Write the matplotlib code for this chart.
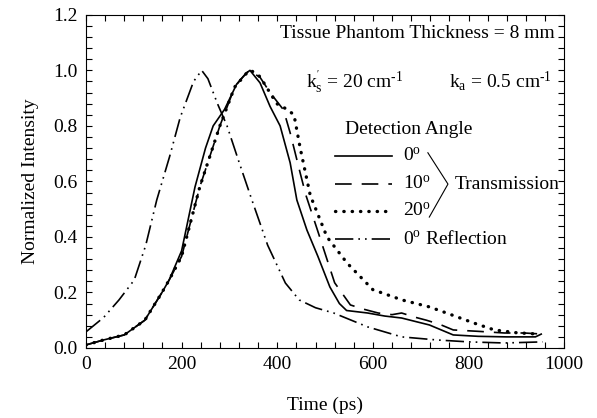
import numpy as np
import matplotlib
matplotlib.use("Agg")
import matplotlib.pyplot as plt
from matplotlib.ticker import MultipleLocator

plt.rcParams['font.family'] = ['Liberation Serif', 'DejaVu Serif']
plt.rcParams['mathtext.fontset'] = 'custom'
plt.rcParams['mathtext.rm'] = 'Liberation Serif'
plt.rcParams['mathtext.it'] = 'Liberation Serif:italic'

# ---- data ----
t_0deg = [0, 37, 80, 123, 159, 174, 200, 228, 250, 266, 290, 315, 335, 343, 364, 385,
          406, 427, 441, 462, 485, 510, 530, 545, 589, 625, 660, 690, 718, 768, 820,
          880, 940, 952]
i_0deg = [0.011, 0.029, 0.047, 0.10, 0.20, 0.245, 0.35, 0.58, 0.72, 0.80, 0.86, 0.95,
          0.99, 1.0, 0.955, 0.87, 0.80, 0.667, 0.533, 0.425, 0.33, 0.22, 0.16, 0.135,
          0.126, 0.115, 0.108, 0.095, 0.083, 0.047, 0.042, 0.040, 0.040, 0.05]

t_10deg = [0, 37, 80, 123, 159, 174, 200, 238, 280, 311, 325, 341, 364, 385, 413, 427,
           448, 460, 484, 520, 553, 580, 611, 640, 660, 690, 712, 740, 768, 820, 875,
           917, 955]
i_10deg = [0.011, 0.029, 0.047, 0.10, 0.20, 0.245, 0.33, 0.58, 0.80, 0.94, 0.97, 1.0,
           0.975, 0.92, 0.858, 0.775, 0.63, 0.55, 0.425, 0.235, 0.155, 0.14, 0.126,
           0.12, 0.126, 0.11, 0.10, 0.085, 0.065, 0.06, 0.054, 0.054, 0.05]

t_20deg = [0, 37, 80, 123, 159, 174, 200, 238, 280, 311, 341, 350, 364, 399, 420, 435,
           448, 469, 504, 546, 600, 661, 718, 754, 811, 854, 900, 945]
i_20deg = [0.011, 0.029, 0.047, 0.10, 0.20, 0.245, 0.33, 0.58, 0.80, 0.94, 1.0, 0.995,
           0.977, 0.88, 0.86, 0.84, 0.72, 0.55, 0.40, 0.306, 0.21, 0.173, 0.148, 0.126,
           0.09, 0.065, 0.055, 0.05]

t_refl = [0, 37, 69, 101, 125, 148, 175, 197, 225, 242, 255, 275, 295, 320, 347, 380,
          417, 446, 480, 518, 589, 660, 733, 800, 875, 955]
i_refl = [0.058, 0.11, 0.173, 0.245, 0.37, 0.533, 0.69, 0.83, 0.96, 1.0, 0.97, 0.88,
          0.80, 0.67, 0.533, 0.37, 0.234, 0.173, 0.145, 0.126, 0.076, 0.04, 0.029,
          0.022, 0.018, 0.022]

legend_labels = ['0$^\\mathregular{o}$', '10$^\\mathregular{o}$', '20$^\\mathregular{o}$',
                 '0$^\\mathregular{o}$ Reflection']

# ---- styles ----
fs = 14
lw = 1.2
sty_solid = dict(color='k', lw=lw, linestyle='-')
sty_dash = dict(color='k', lw=lw, linestyle=(0, (10, 6)))
sty_dot = dict(color='k', lw=2.4, linestyle=(0, (0.1, 2.4)), dash_capstyle='round')
sty_dd = dict(color='k', lw=lw, linestyle=(0, (11, 3, 1, 3, 1, 3)))
styles = [sty_solid, sty_dash, sty_dot, sty_dd]

fig = plt.figure(figsize=(5.97, 4.18), dpi=100)
ax = fig.add_axes([0.144, 0.1675, 0.801, 0.797])

for (x, y), s in zip([(t_0deg, i_0deg), (t_10deg, i_10deg), (t_20deg, i_20deg),
                      (t_refl, i_refl)], styles):
    ax.plot(x, y, **s)

ax.set_xlim(0, 1000)
ax.set_ylim(0, 1.2)
ax.xaxis.set_major_locator(MultipleLocator(200))
ax.xaxis.set_minor_locator(MultipleLocator(40))
ax.yaxis.set_major_locator(MultipleLocator(0.2))
ax.yaxis.set_minor_locator(MultipleLocator(0.04))
ax.yaxis.set_major_formatter(plt.FormatStrFormatter('%.1f'))
ax.tick_params(which='both', direction='in', top=True, right=True, length=4,
               width=0.8, labelsize=fs, pad=6)
for sp in ax.spines.values():
    sp.set_linewidth(0.8)

ax.set_xlabel('Time (ps)', fontsize=fs, labelpad=17)
ax.set_ylabel('Normalized Intensity', fontsize=fs, labelpad=10)

# annotation text
ax.text(0.981, 0.943, 'Tissue Phantom Thickness = 8 mm', transform=ax.transAxes,
        ha='right', va='center', fontsize=fs)
ax.text(0.46, 0.80, "k$^{'}_\\mathregular{s}$ = 20 cm$^{\\text{-1}}$",
        transform=ax.transAxes, ha='left', va='center', fontsize=fs)
ax.text(0.975, 0.80, "k$_\\mathregular{a}$ = 0.5 cm$^{\\text{-1}}$",
        transform=ax.transAxes, ha='right', va='center', fontsize=fs)

# hand-made legend
ax.text(0.674, 0.655, 'Detection Angle', transform=ax.transAxes, ha='center',
        va='center', fontsize=fs)
rows = [0.577, 0.492, 0.411, 0.327]
for yy, s, lab in zip(rows, styles, legend_labels):
    ax.plot([0.521, 0.640], [yy, yy], transform=ax.transAxes, **s)
    ax.text(0.663, yy, lab, transform=ax.transAxes, ha='left', va='center', fontsize=fs)
ax.plot([0.715, 0.757, 0.718], [0.586, 0.492, 0.393], transform=ax.transAxes,
        color='k', lw=0.8)
ax.text(0.772, 0.492, 'Transmission', transform=ax.transAxes, ha='left', va='center',
        fontsize=fs)

fig.savefig('out.png', dpi=100)
